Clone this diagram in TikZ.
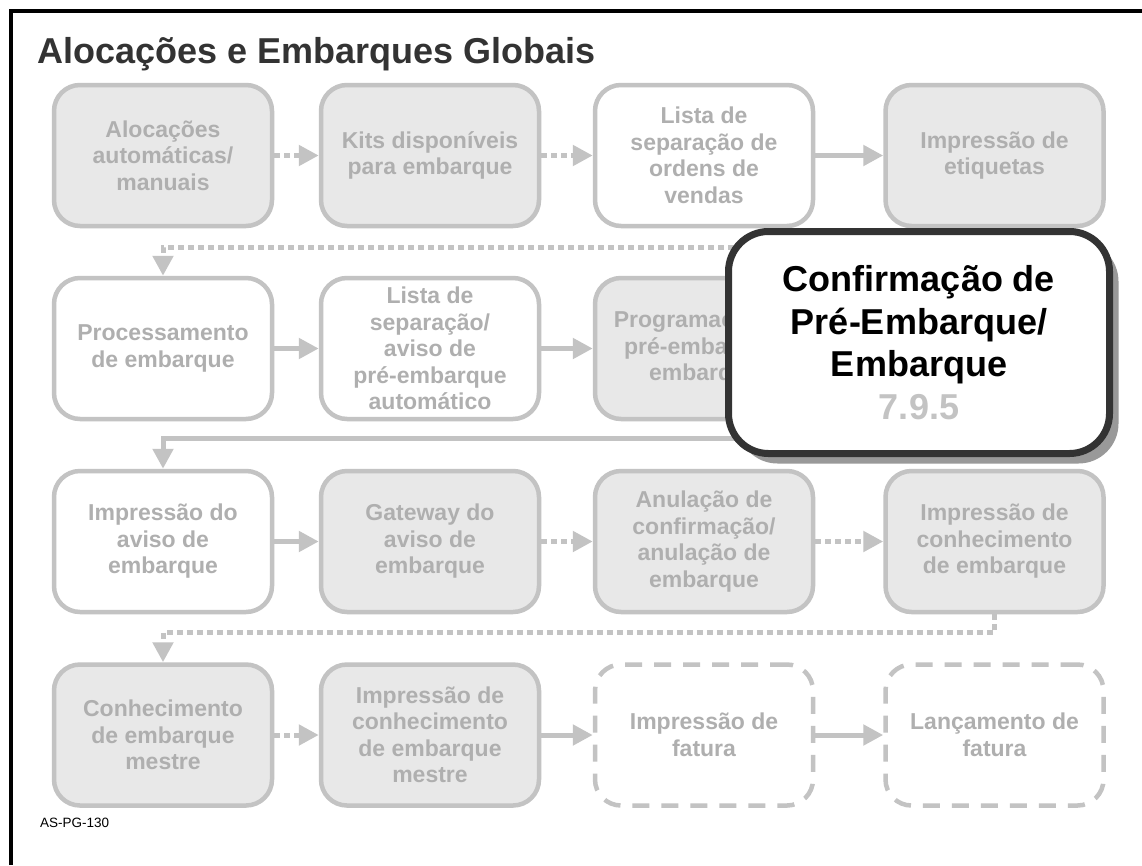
\documentclass[tikz,border=0pt]{standalone}
\usepackage{fontspec}
\setmainfont{Liberation Sans}
\usetikzlibrary{arrows.meta,shadows}
\definecolor{boxline}{HTML}{C3C3C3}
\definecolor{boxfill}{HTML}{E8E8E8}
\definecolor{boxtext}{HTML}{AFAFAF}
\definecolor{titlegray}{HTML}{333333}
\definecolor{bigline}{HTML}{333333}
\definecolor{shadowgray}{HTML}{999999}
\definecolor{numgray}{HTML}{C3C3C3}
\begin{document}
\begin{tikzpicture}[x=1pt,y=-1pt,
  proc/.style={draw=boxline, line width=4.5pt, rounded corners=26pt,
    minimum width=218pt, minimum height=141pt, align=center, text=boxtext,
    font=\fontsize{23}{26.5}\selectfont\bfseries, inner sep=2pt},
  grayproc/.style={proc, fill=boxfill},
  whiteproc/.style={proc, fill=white},
  dashproc/.style={proc, fill=white, dash pattern=on 17pt off 12pt},
  sflow/.style={draw=boxline, line width=5pt, -{Triangle[length=20pt,width=20pt]}},
  dflow/.style={sflow, dash pattern=on 6pt off 4pt},
  bigbox/.style={draw=bigline, line width=7pt, fill=white, rounded corners=40pt,
    minimum width=381pt, minimum height=222pt, align=center,
    font=\fontsize{36}{42.5}\selectfont\bfseries, text=black,
    drop shadow={shadow xshift=9pt, shadow yshift=-10pt, fill=shadowgray, opacity=1}},
]
\useasboundingbox (0,0) rectangle (1142,865);
\fill[white] (0,0) rectangle (1142,865);
% frame (top and left)
\draw[line width=4pt] (10.5,865) -- (10.5,11) -- (1142,11);
% title
\node[anchor=base west, font=\fontsize{36}{40}\selectfont\bfseries, text=titlegray, inner sep=0] (title) at (37,63) {Alocações e Embarques Globais};
% row 1
\node[grayproc]  (a1) at (163,155.5)   {Alocações\\automáticas/\\manuais};
\node[grayproc]  (a2) at (430,155.5)   {Kits disponíveis\\para embarque};
\node[whiteproc] (a3) at (704,155.5)   {Lista de\\separação de\\ordens de\\vendas};
\node[grayproc]  (a4) at (994.5,155.5) {Impressão de\\etiquetas};
% row 2
\node[whiteproc] (b1) at (163,348.5)   {Processamento\\de embarque};
\node[whiteproc] (b2) at (430,348.5)   {Lista de\\separação/\\aviso de\\pré-embarque\\automático};
\node[grayproc]  (b3) at (704,348.5)   {Programação de\\pré-embarque/\\embarque};
\coordinate (b4) at (994.5,420);
% row 3
\node[whiteproc] (c1) at (163,541.5)   {Impressão do\\aviso de\\embarque};
\node[grayproc]  (c2) at (430,541.5)   {Gateway do\\aviso de\\embarque};
\node[grayproc]  (c3) at (704,541.5)   {Anulação de\\confirmação/\\anulação de\\embarque};
\node[grayproc]  (c4) at (994.5,541.5) {Impressão de\\conhecimento\\de embarque};
% row 4
\node[grayproc]  (d1) at (163,735)     {Conhecimento\\de embarque\\mestre};
\node[grayproc]  (d2) at (430,735)     {Impressão de\\conhecimento\\de embarque\\mestre};
\node[dashproc]  (d3) at (704,735)     {Impressão de\\fatura};
\node[dashproc]  (d4) at (994.5,735)   {Lançamento de\\fatura};
% connectors
\draw[dflow] (a1) -- (a2);
\draw[dflow] (a2) -- (a3);
\draw[sflow] (a3) -- (a4);
\draw[dflow] (a4.south) -- ++(0,19) -| (b1.north);
\draw[sflow] (b1) -- (b2);
\draw[sflow] (b2) -- (b3);
\draw[sflow] (b4) -- ++(0,18) -| (c1.north);
\draw[sflow] (c1) -- (c2);
\draw[dflow] (c2) -- (c3);
\draw[dflow] (c3) -- (c4);
\draw[dflow] (c4.south) -- ++(0,18) -| (d1.north);
\draw[dflow] (d1) -- (d2);
\draw[sflow] (d2) -- (d3);
\draw[sflow] (d3) -- (d4);
% highlighted step
\node[bigbox] (big) at (919,342.5) {Confirmação de\\Pré-Embarque/\\Embarque\\\textcolor{numgray}{7.9.5}};
% footer
\node[anchor=base west, font=\fontsize{13.5}{15}\selectfont, inner sep=0] (tag) at (40,827) {AS-PG-130};
\end{tikzpicture}
\end{document}
